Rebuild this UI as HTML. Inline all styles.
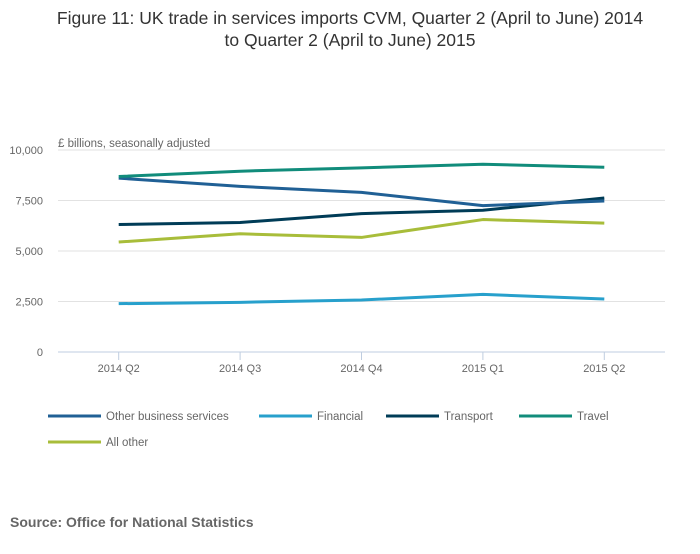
<!DOCTYPE html>
<html><head><meta charset="utf-8"><style>
body{margin:0;background:#fff;font-family:"Liberation Sans",sans-serif;}
svg text{font-family:"Liberation Sans",sans-serif;}
</style></head><body>
<svg width="700" height="549">
<text x="350" y="24" text-anchor="middle" font-size="17.5" fill="#333">Figure 11: UK trade in services imports CVM, Quarter 2 (April to June) 2014</text>
<text x="350" y="46" text-anchor="middle" font-size="17.5" fill="#333">to Quarter 2 (April to June) 2015</text>
<text x="58" y="147" font-size="11.5" fill="#666">£ billions, seasonally adjusted</text>
<g id="grid"></g><g id="series"></g><g id="legend"></g>
<text x="10" y="527" font-size="14" font-weight="bold" fill="#666">Source: Office for National Statistics</text>
</svg>
<script>
const categories=["2014 Q2","2014 Q3","2014 Q4","2015 Q1","2015 Q2"];
const yTicks=[0,2500,5000,7500,10000];
const yTickLabels=["0","2,500","5,000","7,500","10,000"];
const seriesNames=["Other business services","Financial","Transport","Travel","All other"];
const otherBusiness=[8607,8197,7902,7246,7475];
const financial=[2393,2459,2574,2852,2623];
const transport=[6311,6410,6852,7016,7623];
const travel=[8689,8951,9115,9295,9148];
const allOther=[5443,5852,5672,6557,6377];
const colors=["#206095","#27a0cc","#003c57","#118c7b","#a8bd3a"];
const ns="http://www.w3.org/2000/svg";
const L=58,R=665,T=150,B=352;
const x=i=>L+(R-L)*(i+0.5)/categories.length;
const y=v=>B-(B-T)*v/10000;
function mk(tag,attrs,parent){const e=document.createElementNS(ns,tag);for(const k in attrs)e.setAttribute(k,attrs[k]);parent.appendChild(e);return e;}
const grid=document.getElementById('grid');
yTicks.forEach((t,i)=>{
 const ln=mk('line',{x1:L,x2:R,y1:y(t),y2:y(t),stroke:t===0?'#bfcde0':'#e2e2e2','stroke-width':1},grid);
 
 
 const tx=mk('text',{x:43,y:y(t)+4,'text-anchor':'end','font-size':11,fill:'#666'},grid);
 tx.textContent=yTickLabels[i];
 
 
});
categories.forEach((c,i)=>{
 const tk=mk('line',{x1:x(i),x2:x(i),y1:B,y2:B+8,stroke:'#bfcde0'},grid);
 
 
 const tx=mk('text',{x:x(i),y:B+20,'text-anchor':'middle','font-size':11,fill:'#666'},grid);
 tx.textContent=c;
 
 
});
const data=[otherBusiness,financial,transport,travel,allOther];
const sg=document.getElementById('series');
const order=[1,4,2,0,3];
order.forEach(s=>{
 const p=mk('polyline',{points:data[s].map((v,i)=>x(i)+','+y(v)).join(' '),fill:'none',stroke:colors[s],'stroke-width':3,'stroke-linejoin':'round'},sg);
 
 
});
const lg=document.getElementById('legend');
const lpos=[[48,416],[259,416],[386,416],[519,416],[48,442]];
seriesNames.forEach((n,s)=>{
 const g=mk('g',{},lg);
 
 
 mk('line',{x1:lpos[s][0],x2:lpos[s][0]+53,y1:lpos[s][1],y2:lpos[s][1],stroke:colors[s],'stroke-width':3},g);
 const t=mk('text',{x:lpos[s][0]+58,y:lpos[s][1]+4,'font-size':11.5,fill:'#666'},g);
 t.textContent=n;
});
</script>
</body></html>
